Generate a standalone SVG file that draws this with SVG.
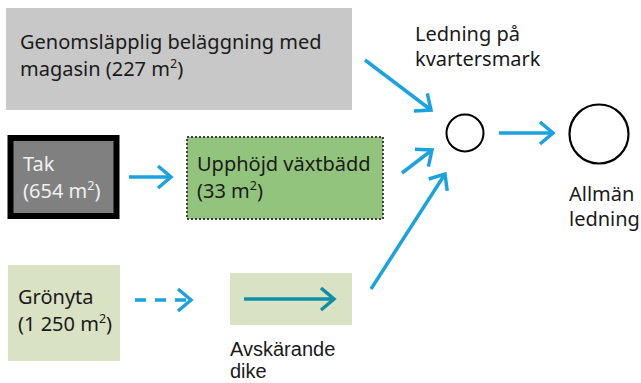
<svg xmlns="http://www.w3.org/2000/svg" width="641" height="383" viewBox="0 0 641 383">
<defs>
<style>
text{font-family:"Noto Sans","Liberation Sans",sans-serif;font-size:20px;fill:#1a1a1a}
.w{fill:#f0f0f0}
.t{font-family:"Liberation Sans",Arial,sans-serif;font-size:20px}
.c{stroke:#1aa3de;stroke-width:3.5;fill:none}
.sup{font-size:12.5px}
</style>
<marker id="ah" markerUnits="userSpaceOnUse" markerWidth="30" markerHeight="30" viewBox="-16 -15 20 30" refX="0" refY="0" orient="auto">
<path d="M-13,-11 L0,0 L-13,11" fill="none" stroke="#1aa3de" stroke-width="3.5"/>
</marker>
<marker id="ah2" markerUnits="userSpaceOnUse" markerWidth="30" markerHeight="30" viewBox="-16 -15 20 30" refX="0" refY="0" orient="auto">
<path d="M-13,-11 L0,0 L-13,11" fill="none" stroke="#0e8fa8" stroke-width="3.5"/>
</marker>
</defs>
<rect width="641" height="383" fill="#ffffff"/>
<g id="genomslapplig">
<rect x="6" y="8" width="346" height="102" fill="#c8c8c8"/>
<text x="20" y="49">Genomsläpplig beläggning med</text>
<text x="20" y="76">magasin (227 m<tspan class="sup" dy="-8">2</tspan><tspan dy="8">)</tspan></text>
</g>
<g id="tak">
<rect x="10.5" y="138" width="106" height="78" fill="#808080" stroke="#000000" stroke-width="6"/>
<text class="w" x="23" y="171">Tak</text>
<text class="w" x="23" y="198">(654 m<tspan class="sup" dy="-8">2</tspan><tspan dy="8">)</tspan></text>
</g>
<g id="upphojd">
<rect x="187" y="137" width="196" height="82" fill="#93c47d" stroke="#404040" stroke-width="2" stroke-dasharray="2 2"/>
<text x="197" y="171">Upphöjd växtbädd</text>
<text x="197" y="198">(33 m<tspan class="sup" dy="-8">2</tspan><tspan dy="8">)</tspan></text>
</g>
<g id="gronyta">
<rect x="8" y="265" width="112" height="96" fill="#d9e2c3"/>
<text x="18" y="304">Grönyta</text>
<text x="18" y="331">(1 250 m<tspan class="sup" dy="-8">2</tspan><tspan dy="8">)</tspan></text>
</g>
<g id="dike">
<rect x="230" y="273" width="122" height="52" fill="#d9e2c3"/>
<line x1="244" y1="299" x2="334" y2="299" stroke="#0e8fa8" stroke-width="3.5" marker-end="url(#ah2)"/>
<text class="t" x="230" y="355.5">Avskärande</text>
<text class="t" x="230" y="378">dike</text>
</g>
<g id="ledning-kvarter">
<circle cx="465" cy="133" r="18.5" fill="#ffffff" stroke="#000000" stroke-width="2"/>
<text x="415" y="41">Ledning på</text>
<text x="415" y="66">kvartersmark</text>
</g>
<g id="allman-ledning">
<circle cx="599" cy="134" r="29.5" fill="#ffffff" stroke="#000000" stroke-width="2.2"/>
<text x="569" y="201">Allmän</text>
<text x="569" y="226">ledning</text>
</g>
<g id="connectors">
<line class="c" x1="129" y1="177" x2="171" y2="177" marker-end="url(#ah)"/>
<line class="c" x1="135" y1="300" x2="191" y2="300" stroke-dasharray="11 9" marker-end="url(#ah)"/>
<line class="c" x1="365" y1="60" x2="431" y2="110" marker-end="url(#ah)"/>
<line class="c" x1="402" y1="173" x2="432" y2="150" marker-end="url(#ah)"/>
<line class="c" x1="371" y1="289" x2="445" y2="174" marker-end="url(#ah)"/>
<line class="c" x1="499" y1="133" x2="553" y2="133" marker-end="url(#ah)"/>
</g>
</svg>
